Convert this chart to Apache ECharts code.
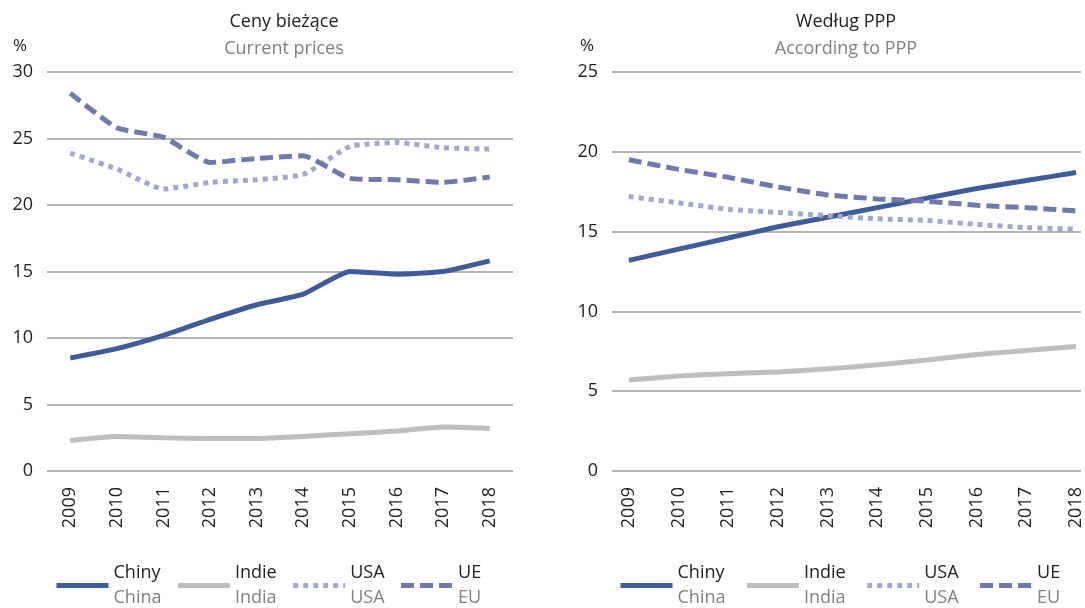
<!DOCTYPE html>
<html lang="pl">
<head>
    <meta charset="UTF-8">
    <title>Udział w światowym PKB</title>
    <script src="https://cdn.jsdelivr.net/npm/echarts@6/dist/echarts.min.js"></script>
</head>
<body style="margin: 0; background: #fff;">
    <div id="chart_container" style="width: 1085px; height: 608px;"></div>

<script type="text/javascript">
    // data, %
    var years = [2009, 2010, 2011, 2012, 2013, 2014, 2015, 2016, 2017, 2018];

    // Ceny bieżące / Current prices
    var cur_china = [8.5, 9.2, 10.2, 11.4, 12.5, 13.3, 15.0, 14.8, 15.0, 15.8];
    var cur_india = [2.3, 2.6, 2.5, 2.45, 2.45, 2.6, 2.8, 3.0, 3.3, 3.2];
    var cur_usa   = [23.9, 22.7, 21.2, 21.7, 21.9, 22.3, 24.4, 24.7, 24.3, 24.2];
    var cur_eu    = [28.4, 25.8, 25.1, 23.2, 23.5, 23.7, 22.0, 21.9, 21.7, 22.1];

    // Według PPP / According to PPP
    var ppp_china = [13.2, 13.9, 14.6, 15.3, 15.9, 16.5, 17.1, 17.7, 18.2, 18.7];
    var ppp_india = [5.7, 5.95, 6.1, 6.2, 6.4, 6.65, 6.95, 7.3, 7.55, 7.8];
    var ppp_usa   = [17.2, 16.8, 16.4, 16.2, 16.0, 15.8, 15.7, 15.45, 15.25, 15.15];
    var ppp_eu    = [19.5, 18.9, 18.4, 17.8, 17.3, 17.05, 16.9, 16.65, 16.5, 16.3];

    var names_pl = ["Chiny", "Indie", "USA", "UE"];
    var names_en = {"Chiny": "China", "Indie": "India", "USA": "USA", "UE": "EU"};

    var FONT = "Open Sans";
    var textDark = "#222";
    var textGrey = "#808080";
    var gridColor = "#9a9a9a";

    var styles = {
        "Chiny": {color: "#3f5b9a", type: "solid"},
        "Indie": {color: "#bdbec2", type: "solid"},
        "USA":   {color: "#a3a7cc", type: [5, 5]},
        "UE":    {color: "#7079ad", type: [13, 6]}
    };

    function pairs(vals) {
        return years.map(function (y, i) { return [y, vals[i]]; });
    }

    function makeSeries(name, vals, idx) {
        return {
            name: name,
            type: "line",
            xAxisIndex: idx,
            yAxisIndex: idx,
            data: pairs(vals),
            symbol: "none",
            smooth: 0.15,
            color: styles[name].color,
            lineStyle: {width: 5, color: styles[name].color, type: styles[name].type, cap: "butt"}
        };
    }

    function makeXAxis(idx, min, max) {
        return {
            type: "value",
            gridIndex: idx,
            min: min,
            max: max,
            axisLine: {show: false},
            axisTick: {show: false},
            splitLine: {show: false},
            axisLabel: {
                customValues: years,
                rotate: 90,
                margin: 16,
                fontFamily: FONT,
                fontSize: 18,
                color: textDark,
                formatter: function (v) { return String(v); }
            }
        };
    }

    function makeYAxis(idx, max) {
        return {
            type: "value",
            gridIndex: idx,
            min: 0,
            max: max,
            interval: 5,
            axisLine: {show: false},
            axisTick: {show: false},
            splitLine: {lineStyle: {color: gridColor, width: 1.5}},
            axisLabel: {margin: 14, fontFamily: FONT, fontSize: 18, color: textDark}
        };
    }

    function makeLegend(left, gap) {
        return {
            left: left,
            top: 564,
            padding: 0,
            orient: "horizontal",
            itemWidth: 52,
            itemHeight: 2,
            itemGap: gap,
            itemTextGap: 4,
            data: names_pl,
            itemStyle: {opacity: 0},
            lineStyle: {width: 5},
            formatter: function (name) {
                return "{a|" + name + "}\n{b|" + names_en[name] + "}";
            },
            textStyle: {
                align: "left",
                rich: {
                    a: {fontFamily: FONT, fontSize: 18, color: textDark, lineHeight: 25, align: "left"},
                    b: {fontFamily: FONT, fontSize: 18, color: textGrey, lineHeight: 25, align: "left"}
                }
            }
        };
    }

    var myChart = echarts.init(document.getElementById("chart_container"));

    myChart.setOption({
        animation: false,
        title: [
            {
                text: "Ceny bieżące", subtext: "Current prices",
                left: 279, top: 8, textAlign: "center", itemGap: 9,
                textStyle: {fontFamily: FONT, fontSize: 18, fontWeight: "normal", color: textDark},
                subtextStyle: {fontFamily: FONT, fontSize: 18, color: textGrey}
            },
            {
                text: "Według PPP", subtext: "According to PPP",
                left: 841, top: 8, textAlign: "center", itemGap: 9,
                textStyle: {fontFamily: FONT, fontSize: 18, fontWeight: "normal", color: textDark},
                subtextStyle: {fontFamily: FONT, fontSize: 18, color: textGrey}
            }
        ],
        graphic: [
            {type: "text", left: 13, top: 38, style: {text: "%", font: "17px 'Open Sans'", fill: textDark}},
            {type: "text", left: 580, top: 38, style: {text: "%", font: "17px 'Open Sans'", fill: textDark}}
        ],
        legend: [makeLegend(54, 14), makeLegend(618, 19)],
        grid: [
            {left: 47, right: 572, top: 72, bottom: 137},
            {left: 612, right: 0, top: 72, bottom: 137}
        ],
        xAxis: [makeXAxis(0, 2008.5, 2018.5), makeXAxis(1, 2008.66, 2018.1)],
        yAxis: [makeYAxis(0, 30), makeYAxis(1, 25)],
        series: [
            makeSeries("Chiny", cur_china, 0),
            makeSeries("Indie", cur_india, 0),
            makeSeries("USA", cur_usa, 0),
            makeSeries("UE", cur_eu, 0),
            makeSeries("Chiny", ppp_china, 1),
            makeSeries("Indie", ppp_india, 1),
            makeSeries("USA", ppp_usa, 1),
            makeSeries("UE", ppp_eu, 1)
        ]
    });
</script>
</body>
</html>
